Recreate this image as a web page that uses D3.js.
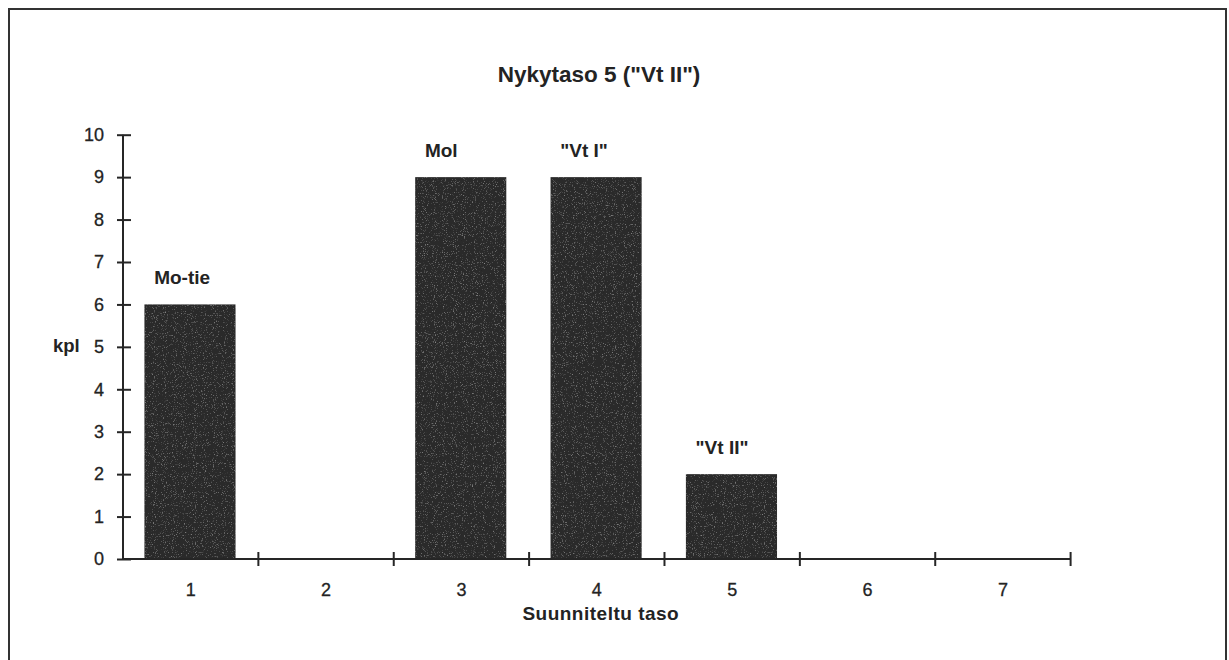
<!DOCTYPE html>
<html>
<head>
<meta charset="utf-8">
<script src="https://cdn.jsdelivr.net/npm/d3@7"></script>
<style>
  html, body { margin: 0; padding: 0; background: #ffffff; }
  svg { display: block; }
  text { font-family: "Liberation Sans", Arial, Helvetica, sans-serif; fill: #232323; }
</style>
</head>
<body>
<svg id="chart" width="1229" height="660"></svg>
<script>
// Suunniteltu taso categories and counts (kpl)
const categories = ["1", "2", "3", "4", "5", "6", "7"];
const counts = [6, 0, 9, 9, 2, 0, 0];
const barLabels = ["Mo-tie", "", "Mol", "\"Vt I\"", "\"Vt II\"", "", ""];
const yTicks = [0, 1, 2, 3, 4, 5, 6, 7, 8, 9, 10];

const titleText = "Nykytaso 5 (\"Vt II\")";
const xTitle = "Suunniteltu taso";
const yTitle = "kpl";

const svg = d3.select("#chart");
const ink = "#262626";

// grainy print texture for the bar fill
const defs = svg.append("defs");
const grain = defs.append("filter").attr("id", "grain")
  .attr("x", 0).attr("y", 0).attr("width", 1).attr("height", 1);
grain.append("feTurbulence").attr("type", "fractalNoise")
  .attr("baseFrequency", 0.9).attr("numOctaves", 2).attr("seed", 4).attr("result", "noise");
grain.append("feColorMatrix").attr("in", "noise").attr("type", "matrix")
  .attr("values", "0 0 0 0 0.45  0 0 0 0 0.45  0 0 0 0 0.45  0 0 0 1.6 -0.95")
  .attr("result", "specks");
grain.append("feComposite").attr("in", "specks").attr("in2", "SourceGraphic")
  .attr("operator", "in").attr("result", "clipped");
grain.append("feMerge").call(m => {
  m.append("feMergeNode").attr("in", "SourceGraphic");
  m.append("feMergeNode").attr("in", "clipped");
});

// outer frame
svg.append("rect")
  .attr("x", 9).attr("y", 9)
  .attr("width", 1217).attr("height", 660)
  .attr("fill", "none").attr("stroke", "#333").attr("stroke-width", 2);

const x = d3.scaleBand().domain(categories).range([123, 1070.6]).padding(0);
const y = d3.scaleLinear().domain([0, 10]).range([559, 134.7]);

const barFrac = 0.673;
const bw = x.bandwidth() * barFrac;
const rows = categories.map((c, i) => ({ c, v: counts[i], label: barLabels[i] }));

// bars
svg.append("g").selectAll("rect")
  .data(rows.filter(d => d.v > 0))
  .join("rect")
  .attr("x", d => x(d.c) + (x.bandwidth() - bw) / 2 - 0.7)
  .attr("y", d => y(d.v))
  .attr("width", bw)
  .attr("height", d => y(0) - y(d.v))
  .attr("fill", "#2a2a2a")
  .attr("filter", "url(#grain)");

// labels above bars
svg.append("g").selectAll("text")
  .data(rows.filter(d => d.label))
  .join("text")
  .attr("x", d => x(d.c) + (x.bandwidth() - bw) / 2 + 9)
  .attr("y", d => y(d.v) - 20)
  .attr("font-size", 19)
  .attr("font-weight", "bold")
  .text(d => d.label);

// y axis
const yAxis = svg.append("g")
  .attr("transform", `translate(${x.range()[0]},0)`)
  .call(d3.axisLeft(y).tickValues(yTicks).tickSize(7).tickPadding(12));
yAxis.select(".domain").attr("stroke", ink).attr("stroke-width", 2).attr("d", `M0,${y(10)}V${y(0)}`);
yAxis.selectAll(".tick line").attr("x1", -6).attr("x2", 8).attr("stroke", ink).attr("stroke-width", 2);
yAxis.selectAll(".tick text")
  .attr("font-size", 18).attr("fill", "#232323")
  .attr("stroke", "#232323").attr("stroke-width", 0.3)
  .style("font-family", "'Liberation Sans', Arial, sans-serif");

// x axis: line with ticks on category boundaries
const xAxis = svg.append("g")
  .attr("transform", `translate(0,${y(0)})`)
  .call(d3.axisBottom(x).tickSize(0).tickPadding(24));
xAxis.select(".domain").attr("stroke", ink).attr("stroke-width", 2).attr("d", `M${x.range()[0]},0H${x.range()[1]}`);
xAxis.selectAll(".tick text")
  .attr("font-size", 18).attr("fill", "#232323")
  .attr("stroke", "#232323").attr("stroke-width", 0.3)
  .style("font-family", "'Liberation Sans', Arial, sans-serif");
xAxis.append("g").selectAll("line")
  .data(categories.slice(1).map(c => x(c)).concat([x.range()[1]]))
  .join("line")
  .attr("x1", d => d).attr("x2", d => d)
  .attr("y1", -7).attr("y2", 7)
  .attr("stroke", ink).attr("stroke-width", 2);

// titles
svg.append("text")
  .attr("x", 599).attr("y", 82)
  .attr("text-anchor", "middle")
  .attr("font-size", 22.5).attr("font-weight", "bold")
  .text(titleText);

svg.append("text")
  .attr("x", (x.range()[0] + x.range()[1]) / 2 + 4).attr("y", 620)
  .attr("text-anchor", "middle")
  .attr("font-size", 19).attr("font-weight", "bold")
  .attr("letter-spacing", 0.5)
  .text(xTitle);

svg.append("text")
  .attr("x", 53).attr("y", 352)
  .attr("font-size", 18.5).attr("font-weight", "bold")
  .text(yTitle);
</script>
</body>
</html>
